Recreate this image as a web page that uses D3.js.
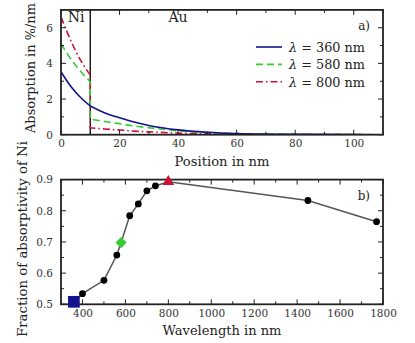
<!DOCTYPE html>
<html lang="en">
<head>
<meta charset="UTF-8">
<title>Absorption in Ni/Au</title>
<script src="https://cdn.jsdelivr.net/npm/d3@7"></script>
<style>
  body { margin: 0; background: #fff; }
</style>
</head>
<body>
<svg width="415" height="343" fill="#222"></svg>
<script>
// ---- panel a) absorption profile ----
var posNi = [0, 2.5, 5, 7.5, 10];
var posAu = [10, 15, 20, 25, 30, 40, 50, 60, 80, 110];
var abs360Ni = [3.53, 2.90, 2.38, 1.96, 1.61];
var abs360Au = [1.61, 1.22, 0.95, 0.71, 0.52, 0.27, 0.14, 0.07, 0.02, 0.0];
var abs580Ni = [5.10, 4.45, 3.90, 3.40, 2.97];
var abs580Au = [0.88, 0.74, 0.62, 0.49, 0.39, 0.22, 0.12, 0.06, 0.02, 0.0];
var abs800Ni = [6.60, 5.60, 4.70, 3.95, 3.35];
var abs800Au = [0.39, 0.32, 0.26, 0.20, 0.16, 0.09, 0.05, 0.03, 0.01, 0.0];
var legendLabels = ["360", "580", "800"];

// ---- panel b) fraction absorbed in Ni ----
var wavelengths = [360, 400, 500, 560, 580, 620, 660, 700, 740, 800, 1450, 1770];
var fraction = [0.508, 0.534, 0.577, 0.658, 0.698, 0.784, 0.822, 0.864, 0.880, 0.893, 0.833, 0.765];

var colors = ["#12128c", "#33cc33", "#cc1133"];
var dashes = [null, "7,4", "7,3,1.5,3"];
var serif = "'DejaVu Serif', serif";

var svg = d3.select("svg");

function frameTicks(g, x, y, xMajor, xMinor, yMajor, yMinor) {
  var x0 = x.range()[0], x1 = x.range()[1], y0 = y.range()[0], y1 = y.range()[1];
  var t = g.append("g").attr("stroke", "#222").attr("stroke-width", 1);
  xMinor.forEach(function (v) {
    var len = xMajor.indexOf(v) >= 0 ? 5 : 3;
    t.append("line").attr("x1", x(v)).attr("x2", x(v)).attr("y1", y0).attr("y2", y0 - len);
    t.append("line").attr("x1", x(v)).attr("x2", x(v)).attr("y1", y1).attr("y2", y1 + len);
  });
  yMinor.forEach(function (v) {
    var len = yMajor.indexOf(v) >= 0 ? 5 : 3;
    t.append("line").attr("y1", y(v)).attr("y2", y(v)).attr("x1", x0).attr("x2", x0 + len);
    t.append("line").attr("y1", y(v)).attr("y2", y(v)).attr("x1", x1).attr("x2", x1 - len);
  });
  g.append("rect").attr("x", x0).attr("y", y1).attr("width", x1 - x0).attr("height", y0 - y1)
    .attr("fill", "none").attr("stroke", "#222").attr("stroke-width", 1.8);
}

function tickLabels(g, x, y, xt, yt, xfmt, yfmt) {
  var gx = g.append("g").attr("transform", "translate(0," + y.range()[0] + ")")
    .call(d3.axisBottom(x).tickValues(xt).tickSize(0).tickPadding(5).tickFormat(xfmt));
  gx.select(".domain").remove();
  var gy = g.append("g").attr("transform", "translate(" + x.range()[0] + ",0)")
    .call(d3.axisLeft(y).tickValues(yt).tickSize(0).tickPadding(8).tickFormat(yfmt));
  gy.select(".domain").remove();
  [gx, gy].forEach(function (a) {
    a.attr("font-family", serif).attr("font-size", 10.5);
    a.selectAll(".tick text").attr("fill", "#333");
  });
}

function label(g, x, y, txt, size, anchor) {
  return g.append("text").attr("x", x).attr("y", y).attr("text-anchor", anchor || "middle")
    .attr("font-family", serif).attr("font-size", size).attr("fill", "#222").text(txt);
}

// shrink/grow a text so that it spans the given width
function fit(t, width) {
  var s = +t.attr("font-size");
  var w = t.node().getComputedTextLength();
  if (w > 0) t.attr("font-size", (s * width / w).toFixed(2));
  return t;
}

// ---------- panel a ----------
var xA = d3.scaleLinear().domain([0, 110]).range([61, 383]);
var yA = d3.scaleLinear().domain([0, 7]).range([134.7, 9.9]);
var gA = svg.append("g");

svg.append("clipPath").attr("id", "clipA").append("rect")
  .attr("x", 61).attr("y", 9.9).attr("width", 322).attr("height", 124.8);

var lineA = d3.line().x(function (d) { return xA(d[0]); }).y(function (d) { return yA(d[1]); })
  .curve(d3.curveMonotoneX);

var seriesNi = [abs360Ni, abs580Ni, abs800Ni];
var seriesAu = [abs360Au, abs580Au, abs800Au];

gA.append("line").attr("x1", xA(10)).attr("x2", xA(10)).attr("y1", yA(0)).attr("y2", yA(7))
  .attr("stroke", "#111").attr("stroke-width", 1.4);

var curves = gA.append("g").attr("clip-path", "url(#clipA)");
[2, 1, 0].forEach(function (i) {
  var ni = posNi.map(function (p, k) { return [p, seriesNi[i][k]]; });
  var au = posAu.map(function (p, k) { return [p, seriesAu[i][k]]; });
  curves.append("path")
    .attr("d", lineA(ni) + lineA(au).replace(/^M/, "L"))
    .attr("fill", "none").attr("stroke", colors[i]).attr("stroke-width", 1.6)
    .attr("stroke-dasharray", dashes[i]);
});

frameTicks(gA, xA, yA, d3.range(0, 111, 20), d3.range(0, 111, 10), d3.range(0, 8, 2), d3.range(0, 8, 1));
tickLabels(gA, xA, yA, d3.range(0, 101, 20), d3.range(0, 7, 2), d3.format("d"), d3.format("d"));

label(gA, 76, 22, "Ni", 14);
label(gA, 178, 22, "Au", 14);
label(gA, 370, 30, "a)", 12, "end");

var leg = gA.append("g");
legendLabels.forEach(function (lab, i) {
  var ly = 47 + i * 17.4;
  leg.append("line").attr("x1", 256).attr("x2", 282).attr("y1", ly).attr("y2", ly)
    .attr("stroke", colors[i]).attr("stroke-width", 1.6).attr("stroke-dasharray", dashes[i]);
  var t = label(leg, 289, ly + 5, null, 13, "start");
  t.append("tspan").attr("font-style", "italic").text("λ");
  t.append("tspan").text(" = " + lab + " nm");
  fit(t, 76);
});

fit(label(gA, 222, 166, "Position in nm", 14), 95);
fit(label(gA, 0, 0, "Absorption in %/nm", 14).attr("transform", "translate(35,68) rotate(-90)"), 130);

// ---------- panel b ----------
var xB = d3.scaleLinear().domain([300, 1800]).range([61, 383]);
var yB = d3.scaleLinear().domain([0.5, 0.9]).range([304.3, 179.6]);
var gB = svg.append("g");

frameTicks(gB, xB, yB, d3.range(400, 1801, 200), d3.range(300, 1801, 100),
  [0.5, 0.6, 0.7, 0.8, 0.9],
  d3.range(0, 9).map(function (k) { return +(0.5 + k * 0.05).toFixed(2); }));
tickLabels(gB, xB, yB, d3.range(400, 1801, 200), [0.5, 0.6, 0.7, 0.8, 0.9], d3.format("d"), d3.format(".1f"));

var pts = wavelengths.map(function (w, i) { return [w, fraction[i]]; });
gB.append("path")
  .attr("d", d3.line().x(function (d) { return xB(d[0]); }).y(function (d) { return yB(d[1]); })(pts))
  .attr("fill", "none").attr("stroke", "#555").attr("stroke-width", 1.5);

var special = { 360: 0, 580: 1, 800: 2 };
gB.selectAll("circle.dot")
  .data(pts.filter(function (d) { return !(d[0] in special); }))
  .enter().append("circle").attr("class", "dot")
  .attr("cx", function (d) { return xB(d[0]); }).attr("cy", function (d) { return yB(d[1]); })
  .attr("r", 3.4).attr("fill", "#000");

// square, diamond (square turned 45deg), triangle
var shapes = [d3.symbolSquare, d3.symbolSquare, d3.symbolTriangle];
var sizes = [137, 62, 58];
var turns = [0, 45, 0];
pts.filter(function (d) { return d[0] in special; }).forEach(function (d) {
  var i = special[d[0]];
  gB.append("path")
    .attr("d", d3.symbol().type(shapes[i]).size(sizes[i])())
    .attr("transform", "translate(" + xB(d[0]) + "," + yB(d[1]) + ") rotate(" + turns[i] + ")")
    .attr("fill", colors[i]);
});

label(gB, 370, 200, "b)", 12, "end");
fit(label(gB, 222, 335, "Wavelength in nm", 14), 119);
fit(label(gB, 0, 0, "Fraction of absorptivity of Ni", 14).attr("transform", "translate(27,239) rotate(-90)"), 196);
</script>
</body>
</html>
